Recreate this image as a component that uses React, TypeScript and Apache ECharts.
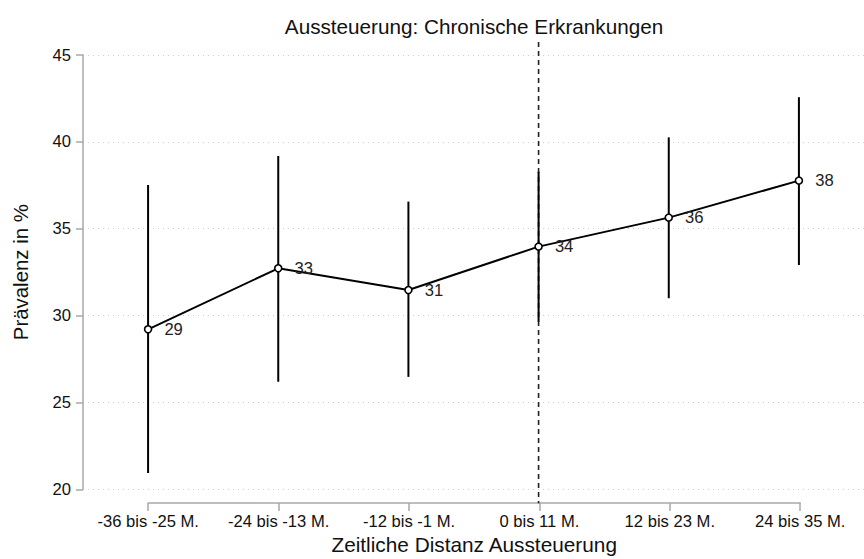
import React, { useEffect, useRef } from "react";
import * as echarts from "echarts";

const categories = ["-36 bis -25 M.", "-24 bis -13 M.", "-12 bis -1 M.", "0 bis 11 M.", "12 bis 23 M.", "24 bis 35 M."];
const prevalence = [29.21, 32.72, 31.47, 33.97, 35.64, 37.77];
const ciLower = [20.94, 26.19, 26.47, 29.65, 31.0, 32.91];
const ciUpper = [37.52, 39.19, 36.56, 38.28, 40.26, 42.57];
const yTicks = { min: 20, max: 45, interval: 5 };
const refLineIndex = 3;

const FONT = "'Liberation Sans', Arial, sans-serif";

export default function App() {
  const ref = useRef<HTMLDivElement>(null);
  useEffect(() => {
    const chart = echarts.init(ref.current!, null, { renderer: "svg" });
    const axisGray = "#a8a8a8";
    chart.setOption({
      animation: false,
      backgroundColor: "#ffffff",
      textStyle: { fontFamily: FONT },
      title: {
        text: "Aussteuerung: Chronische Erkrankungen",
        left: 469,
        textAlign: "center",
        top: 11,
        textStyle: { fontFamily: FONT, fontSize: 20.7, fontWeight: "normal", color: "#111" },
      },
      grid: [
        { left: 83, width: 782, top: 55, height: 434.3 },
        { left: 148.2, width: 652, top: 502, height: 1 },
      ],
      xAxis: [
        {
          type: "category",
          gridIndex: 0,
          data: categories,
          boundaryGap: true,
          show: false,
        },
        {
          type: "value",
          gridIndex: 1,
          min: 0,
          max: categories.length - 1,
          interval: 1,
          position: "bottom",
          axisLine: { show: true, lineStyle: { color: axisGray, width: 1.5 } },
          axisTick: { show: true, length: 8, lineStyle: { color: axisGray, width: 1.5 } },
          splitLine: { show: false },
          axisLabel: {
            margin: 10,
            fontFamily: FONT,
            fontSize: 16.6,
            color: "#111",
            formatter: (v: number) => categories[Math.round(v)] ?? "",
          },
          name: "Zeitliche Distanz Aussteuerung",
          nameLocation: "middle",
          nameGap: 31,
          nameTextStyle: { fontFamily: FONT, fontSize: 20.8, color: "#111" },
        },
      ],
      yAxis: [
        {
          type: "value",
          gridIndex: 0,
          min: yTicks.min,
          max: yTicks.max,
          interval: yTicks.interval,
          axisLine: { show: true, lineStyle: { color: axisGray, width: 1.5 } },
          axisTick: { show: true, length: 7, lineStyle: { color: axisGray, width: 1.5 } },
          axisLabel: { margin: 12, fontFamily: FONT, fontSize: 16.6, color: "#111" },
          splitLine: { show: true, lineStyle: { type: [1, 4], color: "#cccccc", width: 1 } },
          name: "Prävalenz in %",
          nameLocation: "middle",
          nameGap: 52,
          nameRotate: 90,
          nameTextStyle: { fontFamily: FONT, fontSize: 20.4, color: "#111" },
        },
        {
          type: "value",
          gridIndex: 1,
          show: false,
        },
      ],
      series: [
        {
          type: "custom",
          xAxisIndex: 0,
          yAxisIndex: 0,
          clip: false,
          z: 1,
          data: [[refLineIndex]],
          renderItem: (params: any, api: any) => {
            const x = api.coord([api.value(0), yTicks.min])[0];
            const cs = params.coordSys;
            return {
              type: "line",
              shape: { x1: x, y1: cs.y - 13, x2: x, y2: cs.y + cs.height + 14 },
              style: { stroke: "#222", lineWidth: 1.6, lineDash: [5, 4] },
            };
          },
        },
        {
          type: "custom",
          xAxisIndex: 0,
          yAxisIndex: 0,
          z: 2,
          data: categories.map((_, i) => [i, ciLower[i], ciUpper[i]]),
          renderItem: (params: any, api: any) => {
            const lo = api.coord([api.value(0), api.value(1)]);
            const hi = api.coord([api.value(0), api.value(2)]);
            return {
              type: "line",
              shape: { x1: lo[0], y1: lo[1], x2: hi[0], y2: hi[1] },
              style: { stroke: "#000", lineWidth: 2 },
            };
          },
        },
        {
          type: "line",
          xAxisIndex: 0,
          yAxisIndex: 0,
          z: 3,
          data: prevalence,
          symbol: "circle",
          symbolSize: 7,
          lineStyle: { color: "#000", width: 2 },
          itemStyle: { color: "#ffffff", borderColor: "#000", borderWidth: 1.6 },
          label: {
            show: true,
            position: "right",
            distance: 12,
            fontFamily: FONT,
            fontSize: 16.6,
            color: "#222",
            formatter: (p: any) => String(Math.round(p.value)),
          },
        },
      ],
    });
    return () => chart.dispose();
  }, []);
  return <div ref={ref} style={{ width: 864, height: 559, position: "absolute", left: 0, top: 0 }} />;
}
